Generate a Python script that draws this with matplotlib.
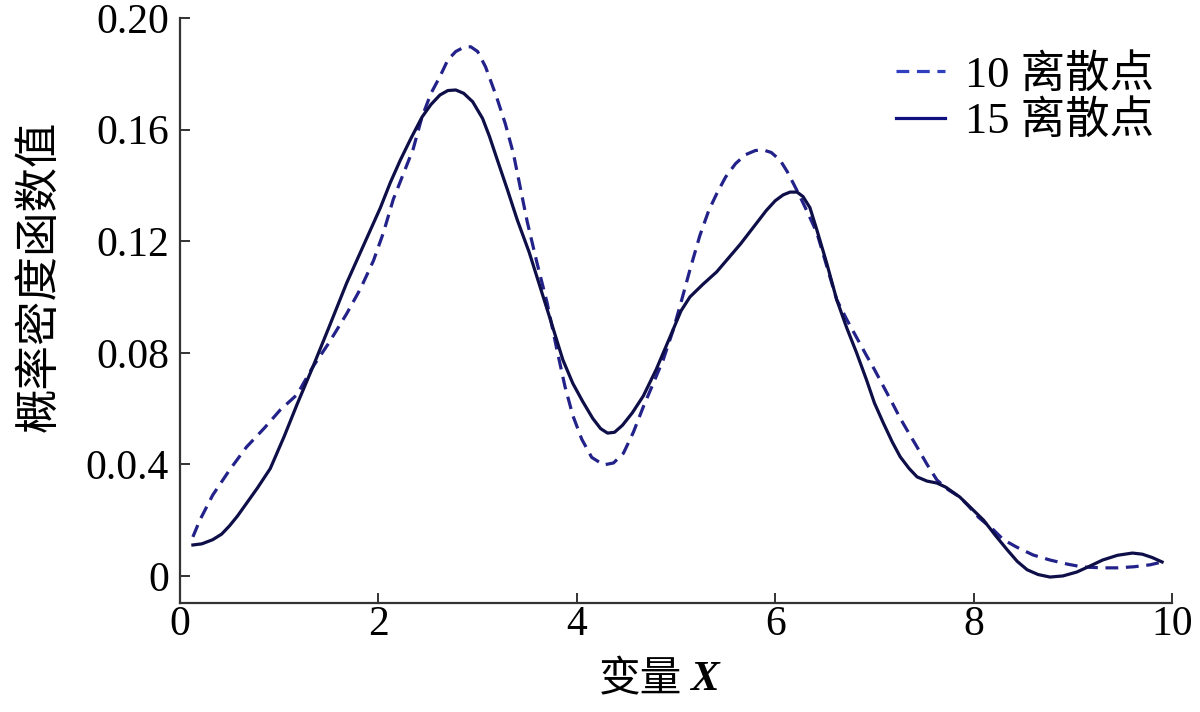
import matplotlib
matplotlib.use("Agg")
import matplotlib.pyplot as plt

x_10 = [0.13, 0.20, 0.33, 0.50, 0.67, 0.85, 1.01, 1.18, 1.34, 1.50, 1.68, 1.82,
        1.95, 2.05, 2.15, 2.25, 2.35, 2.44, 2.53, 2.62, 2.70, 2.78, 2.86, 2.93,
        3.00, 3.08, 3.19, 3.28, 3.36, 3.50, 3.60, 3.70, 3.80, 3.88, 3.96, 4.05,
        4.15, 4.27, 4.37, 4.47, 4.57, 4.67, 4.77, 4.87, 4.97, 5.05, 5.14, 5.24,
        5.33, 5.41, 5.50, 5.60, 5.70, 5.80, 5.88, 5.96, 6.05, 6.12, 6.18, 6.25,
        6.33, 6.42, 6.52, 6.62, 6.72, 6.82, 6.92, 7.00, 7.09, 7.18, 7.26, 7.35,
        7.43, 7.53, 7.63, 7.74, 7.86, 7.95, 8.05, 8.20, 8.30, 8.43, 8.60, 8.77,
        8.95, 9.10, 9.30, 9.45, 9.62, 9.78, 9.90]
y_10 = [0.0140, 0.0200, 0.0290, 0.0380, 0.0462, 0.0530, 0.0595, 0.0650, 0.0750,
        0.0835, 0.0940, 0.1030, 0.1130, 0.1230, 0.1350, 0.1440, 0.1530, 0.1646,
        0.1730, 0.1790, 0.1850, 0.1880, 0.1895, 0.1897, 0.1880, 0.1825, 0.1718,
        0.1620, 0.1515, 0.1270, 0.1120, 0.0980, 0.0810, 0.0680, 0.0575, 0.0490,
        0.0425, 0.0398, 0.0405, 0.0440, 0.0515, 0.0606, 0.0690, 0.0774, 0.0880,
        0.0980, 0.1097, 0.1220, 0.1310, 0.1370, 0.1430, 0.1478, 0.1510, 0.1525,
        0.1527, 0.1518, 0.1490, 0.1450, 0.1409, 0.1360, 0.1300, 0.1230, 0.1110,
        0.0990, 0.0920, 0.0855, 0.0790, 0.0740, 0.0680, 0.0620, 0.0565, 0.0510,
        0.0462, 0.0400, 0.0344, 0.0310, 0.0283, 0.0250, 0.0210, 0.0165, 0.0130,
        0.0104, 0.0075, 0.0057, 0.0042, 0.0032, 0.0029, 0.0029, 0.0033, 0.0040,
        0.0050]

x_15 = [0.13, 0.22, 0.33, 0.42, 0.50, 0.58, 0.67, 0.78, 0.91, 1.05, 1.18, 1.34,
        1.50, 1.68, 1.85, 2.02, 2.12, 2.22, 2.33, 2.44, 2.53, 2.62, 2.70, 2.78,
        2.86, 2.95, 3.05, 3.12, 3.20, 3.30, 3.40, 3.52, 3.63, 3.75, 3.86, 3.96,
        4.06, 4.16, 4.24, 4.31, 4.38, 4.46, 4.56, 4.67, 4.80, 4.94, 5.05, 5.14,
        5.27, 5.41, 5.53, 5.65, 5.78, 5.91, 6.00, 6.08, 6.15, 6.22, 6.28, 6.35,
        6.42, 6.52, 6.62, 6.72, 6.82, 6.92, 7.00, 7.09, 7.18, 7.26, 7.35, 7.43,
        7.53, 7.63, 7.72, 7.86, 7.97, 8.10, 8.22, 8.34, 8.44, 8.54, 8.65, 8.77,
        8.90, 9.04, 9.17, 9.30, 9.45, 9.60, 9.70, 9.80, 9.90]
y_15 = [0.0111, 0.0115, 0.0130, 0.0150, 0.0180, 0.0215, 0.0260, 0.0315, 0.0385,
        0.0500, 0.0615, 0.0750, 0.0890, 0.1050, 0.1185, 0.1320, 0.1410, 0.1490,
        0.1570, 0.1645, 0.1690, 0.1724, 0.1740, 0.1742, 0.1730, 0.1700, 0.1640,
        0.1575, 0.1490, 0.1385, 0.1276, 0.1160, 0.1036, 0.0900, 0.0774, 0.0690,
        0.0625, 0.0565, 0.0528, 0.0512, 0.0515, 0.0540, 0.0585, 0.0645, 0.0740,
        0.0857, 0.0950, 0.1000, 0.1045, 0.1090, 0.1140, 0.1190, 0.1250, 0.1310,
        0.1345, 0.1366, 0.1376, 0.1376, 0.1360, 0.1320, 0.1240, 0.1120, 0.0990,
        0.0890, 0.0800, 0.0703, 0.0620, 0.0548, 0.0480, 0.0427, 0.0385, 0.0355,
        0.0340, 0.0333, 0.0318, 0.0283, 0.0245, 0.0200, 0.0145, 0.0093, 0.0052,
        0.0022, 0.0005, -0.0004, 0.0000, 0.0014, 0.0035, 0.0057, 0.0074, 0.0082,
        0.0078, 0.0066, 0.0050]

labels = ["10 离散点", "15 离散点"]
x_ticks = [0, 2, 4, 6, 8, 10]
y_ticks = [0, 0.04, 0.08, 0.12, 0.16, 0.20]
y_tick_labels = ["0", "0.0.4", "0.08", "0.12", "0.16", "0.20"]

plt.rcParams["font.family"] = ["Liberation Serif", "Noto Sans CJK SC"]

fig = plt.figure(figsize=(12, 7.12), dpi=100)
ax = fig.add_axes([0.15, 0.1531, 0.8267, 0.8216])

ax.plot(x_10, y_10, color="#22228a", lw=2.3, dashes=(4, 2.4), label=labels[0])
ax.plot(x_15, y_15, color="#0e0e48", lw=2.3, label=labels[1])

ax.set_xlim(0, 10)
ax.set_ylim(-0.0097, 0.2)
ax.set_xticks(x_ticks)
ax.set_yticks(y_ticks)
ax.set_yticklabels(y_tick_labels)

for side in ["top", "right"]:
    ax.spines[side].set_visible(False)
for side in ["left", "bottom"]:
    ax.spines[side].set_linewidth(1.6)
    ax.spines[side].set_color("#333333")

ax.tick_params(direction="in", length=7, width=1.4, color="#333333",
               labelsize=30)
ax.tick_params(axis="y", pad=8)
ax.tick_params(axis="x", pad=2)

ax.set_ylabel("概率密度函数值", fontsize=32, family=["Noto Sans CJK SC"])
ax.yaxis.set_label_coords(-0.119, 0.559)

fig.text(682 / 1200, 1 - 680 / 712, "变量", fontsize=30,
         family=["Noto Sans CJK SC"], ha="right", va="center")
fig.text(690 / 1200, 1 - 680 / 712, "X", fontsize=31, family=["Liberation Serif"],
         style="italic", weight="bold", ha="left", va="center")

leg = ax.legend(loc="upper left", bbox_to_anchor=(896 / 1200, 1 - 54 / 712),
                bbox_transform=fig.transFigure, frameon=False, fontsize=32,
                handlelength=1.1, handletextpad=0.45, labelspacing=0.1,
                borderpad=0, borderaxespad=0)
leg.get_lines()[0].set_color("#2f3fbf")
leg.get_lines()[1].set_color("#101080")

fig.savefig("out.png", dpi=100)
